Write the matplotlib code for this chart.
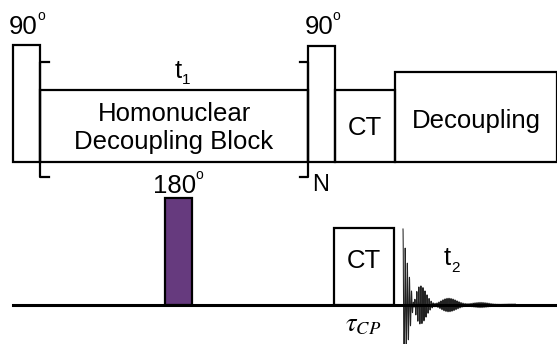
import numpy as np
import matplotlib
matplotlib.use("Agg")
import matplotlib.pyplot as plt
from matplotlib.patches import Rectangle

plt.rcParams['font.family'] = ['Liberation Sans', 'DejaVu Sans']

# ---- element data (pixel-space schematic coordinates) ----
top_base = 162
bot_base = 305
top_blocks_x0 = [13, 40, 308, 335, 395]
top_blocks_x1 = [40, 308, 335, 395, 557]
top_blocks_top = [45, 90, 46, 90, 72]
top_block_labels = ["", "Homonuclear\nDecoupling Block", "", "CT", "Decoupling"]
bot_blocks_x0 = [165, 334]
bot_blocks_x1 = [192, 394]
bot_blocks_top = [198, 228]
bot_block_colors = ["#663a7e", "white"]
bot_block_labels = ["", "CT"]

# FID parameters
fid_start = 403
fid_len = 112
fid_amp1, fid_decay1, fid_per1 = 72, 7.0, 2.2
fid_amp2, fid_decay2, fid_per2 = 26, 28.0, 2.0
fid_beat = 32

fig = plt.figure(figsize=(5.57, 3.44), dpi=100)
ax = fig.add_axes([0, 0, 1, 1])
ax.set_xlim(0, 557)
ax.set_ylim(344, 0)
ax.axis('off')

lw = 1.6
fs = 18.5
label_dy = [0, 2, 0, 2, 4]
for x0, x1, top, lab, dy in zip(top_blocks_x0, top_blocks_x1, top_blocks_top,
                                top_block_labels, label_dy):
    ax.add_patch(Rectangle((x0, top), x1 - x0, top_base - top, fill=False,
                           edgecolor='black', lw=lw, zorder=2))
    if lab:
        ax.text((x0 + x1) / 2, (top + top_base) / 2 + dy, lab, ha='center', va='center',
                fontsize=fs, linespacing=1.25)

# brackets
ax.plot([49, 40, 40, 49], [62, 62, 177, 177], color='black', lw=lw, zorder=3)
ax.plot([300, 308, 308, 300], [62, 62, 177, 177], color='black', lw=lw, zorder=3)

# labels top
ax.text(23, 34, "90", ha='center', va='baseline', fontsize=fs)
ax.text(41, 20, "o", ha='center', va='baseline', fontsize=10)
ax.text(319, 34, "90", ha='center', va='baseline', fontsize=fs)
ax.text(336, 20, "o", ha='center', va='baseline', fontsize=10)
ax.text(178, 78, "t", ha='center', va='baseline', fontsize=fs)
ax.text(186, 84, "1", ha='center', va='baseline', fontsize=11)
ax.text(312, 185, "N", ha='left', va='center', fontsize=17)

# bottom channel baseline
ax.plot([13, 557], [bot_base, bot_base], color='black', lw=2.2, zorder=4)
for x0, x1, top, c, lab in zip(bot_blocks_x0, bot_blocks_x1, bot_blocks_top,
                               bot_block_colors, bot_block_labels):
    ax.add_patch(Rectangle((x0, top), x1 - x0, bot_base - top, facecolor=c,
                           edgecolor='black', lw=lw, zorder=2))
    if lab:
        ax.text((x0 + x1) / 2, (top + bot_base) / 2 - 5, lab, ha='center', va='center',
                fontsize=fs)
ax.text(175, 193, "180", ha='center', va='baseline', fontsize=fs)
ax.text(199, 179, "o", ha='center', va='baseline', fontsize=10)

# FID
t = np.linspace(0, fid_len, 3000)
env2 = fid_amp2 * np.exp(-t / fid_decay2) * np.sin(np.pi * t / fid_beat) ** 2 + 4 * np.exp(-t / 60)
sig = (fid_amp1 * np.exp(-t / fid_decay1) * np.cos(2 * np.pi * t / fid_per1)
       + env2 * np.cos(2 * np.pi * t / fid_per2))
ax.plot(fid_start + t, bot_base - sig, color='#222222', lw=0.75, zorder=3)

ax.text(447, 265, "t", ha='center', va='baseline', fontsize=fs)
ax.text(456, 272, "2", ha='center', va='baseline', fontsize=11)
ax.text(363, 325, r'$\tau_{CP}$', ha='center', va='center', fontsize=19,
        math_fontfamily='stix')

fig.savefig('out.png', dpi=100)
